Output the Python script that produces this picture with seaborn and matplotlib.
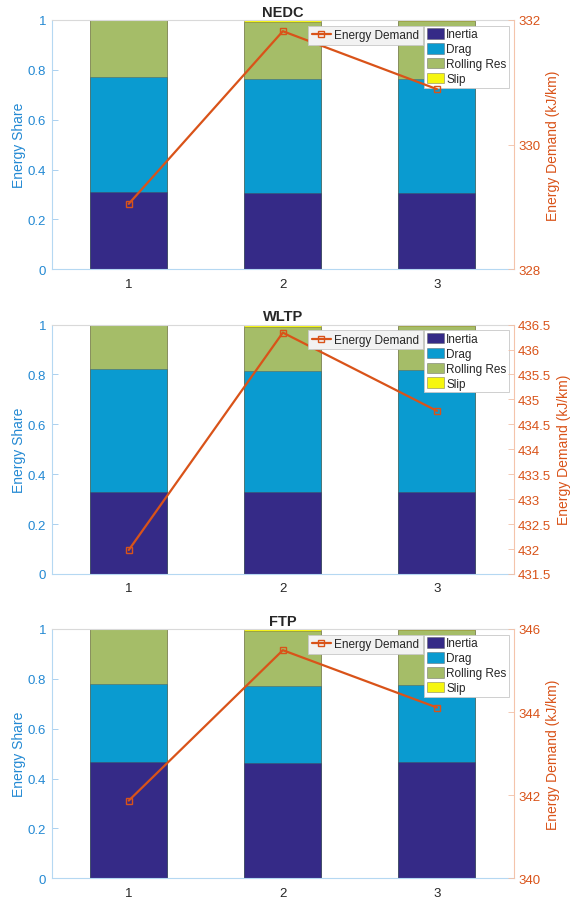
import numpy as np
import pandas as pd
import matplotlib
matplotlib.use("Agg")
import matplotlib.pyplot as plt
import seaborn as sns

sns.set_theme(style="white")
plt.rcParams['font.family'] = ['Liberation Sans', 'DejaVu Sans']

cycles = ["NEDC", "WLTP", "FTP"]
cases = [1, 2, 3]
components = ["Inertia", "Drag", "Rolling Res", "Slip"]

inertia = {"NEDC": [0.310, 0.308, 0.308],
           "WLTP": [0.330, 0.328, 0.328],
           "FTP":  [0.468, 0.464, 0.465]}
drag = {"NEDC": [0.460, 0.457, 0.457],
        "WLTP": [0.492, 0.486, 0.490],
        "FTP":  [0.310, 0.306, 0.309]}
rolling = {"NEDC": [0.230, 0.225, 0.230],
           "WLTP": [0.178, 0.175, 0.178],
           "FTP":  [0.222, 0.221, 0.222]}
slip = {"NEDC": [0.000, 0.010, 0.005],
        "WLTP": [0.000, 0.011, 0.004],
        "FTP":  [0.000, 0.009, 0.004]}

energy = {"NEDC": [329.05, 331.82, 330.89],
          "WLTP": [431.98, 436.34, 434.77],
          "FTP":  [341.87, 345.49, 344.11]}

right_ticks = {"NEDC": [328, 330, 332],
               "WLTP": [431.5, 432, 432.5, 433, 433.5, 434, 434.5, 435, 435.5, 436, 436.5],
               "FTP":  [340, 342, 344, 346]}

comp_colors = ["#352a87", "#0a9bd0", "#a5bd68", "#f6f60f"]
line_color = "#d95319"
left_color = "#2389d3"

fig = plt.figure(figsize=(5.77, 9.04), dpi=100)
axes_boxes = [(0.0896, 0.7010, 0.8012, 0.2758),
              (0.0896, 0.3640, 0.8012, 0.2758),
              (0.0896, 0.0273, 0.8012, 0.2758)]

for cyc, box in zip(cycles, axes_boxes):
    ax = fig.add_axes(box)
    df = pd.DataFrame({"case": cases, "Inertia": inertia[cyc], "Drag": drag[cyc],
                       "Rolling Res": rolling[cyc], "Slip": slip[cyc]})
    cum = df[components].cumsum(axis=1)

    # stacked bars: draw cumulative tops from the top layer down
    for comp, col in reversed(list(zip(components, comp_colors))):
        sns.barplot(x=df["case"], y=cum[comp], color=col, ax=ax, native_scale=True,
                    width=0.5, edgecolor=(0.3, 0.3, 0.3, 0.45), linewidth=0.6,
                    saturation=1, label=comp, errorbar=None)

    ax.set_xlim(0.5, 3.5)
    ax.set_ylim(0, 1)
    ax.set_xticks(cases)
    ax.set_xticklabels([str(c) for c in cases])
    ax.set_yticks(np.arange(0, 1.01, 0.2))
    ax.set_yticklabels(["0", "0.2", "0.4", "0.6", "0.8", "1"])
    ax.set_xlabel("")
    ax.set_ylabel("Energy Share", color=left_color, fontsize=10, labelpad=1)
    ax.set_title(cyc, fontsize=10.5, fontweight="bold", pad=3)
    ax.tick_params(axis="y", colors="#9cc9ec", labelcolor=left_color, labelsize=9.5,
                   direction="in", length=4, width=0.6, right=True, left=True, pad=4)
    ax.tick_params(axis="x", colors="#bcd7ee", labelcolor="#262626", labelsize=9.5,
                   direction="in", length=0, pad=6)
    for s in ["left", "bottom"]:
        ax.spines[s].set_color("#b5d8f2")
        ax.spines[s].set_linewidth(0.8)
    ax.spines["top"].set_color("#d9d9d9")
    ax.spines["top"].set_linewidth(0.8)
    ax.spines["right"].set_visible(False)

    h, l = ax.get_legend_handles_labels()
    leg1 = ax.legend(h[::-1], l[::-1], loc="upper right", bbox_to_anchor=(0.9885, 0.977),
                     fontsize=8.5, frameon=True, fancybox=False, framealpha=1,
                     edgecolor="#c8c8c8", borderpad=0.2, labelspacing=0.22,
                     handlelength=1.45, handleheight=1.0, handletextpad=0.2,
                     borderaxespad=0)
    leg1.get_frame().set_linewidth(0.6)

    ax2 = ax.twinx()
    sns.lineplot(x=cases, y=energy[cyc], ax=ax2, color=line_color, linewidth=1.6,
                 marker="s", markersize=4, markerfacecolor="none",
                 markeredgecolor=line_color, markeredgewidth=1, label="Energy Demand")
    rt = right_ticks[cyc]
    ax2.set_ylim(rt[0], rt[-1])
    ax2.set_yticks(rt)
    ax2.set_yticklabels([("%g" % v) for v in rt])
    ax2.set_ylabel("Energy Demand (kJ/km)", color=line_color, fontsize=10, labelpad=4)
    ax2.tick_params(axis="y", colors="#f2bfa6", labelcolor=line_color, labelsize=9.5,
                    direction="in", length=4, width=0.6, pad=3)
    for s in ["left", "top", "bottom"]:
        ax2.spines[s].set_visible(False)
    ax2.spines["right"].set_color("#f4c4ab")
    ax2.spines["right"].set_linewidth(0.8)
    ax2.set_xlim(0.5, 3.5)
    leg2 = ax2.legend(loc="upper right", bbox_to_anchor=(0.8025, 0.977), fontsize=8.5,
                      frameon=True, fancybox=False, framealpha=1, facecolor="#f2f2f2",
                      edgecolor="#c8c8c8", borderpad=0.3, handlelength=1.6,
                      handletextpad=0.3, borderaxespad=0)
    leg2.get_frame().set_linewidth(0.6)

fig.savefig("out.png", dpi=100)
